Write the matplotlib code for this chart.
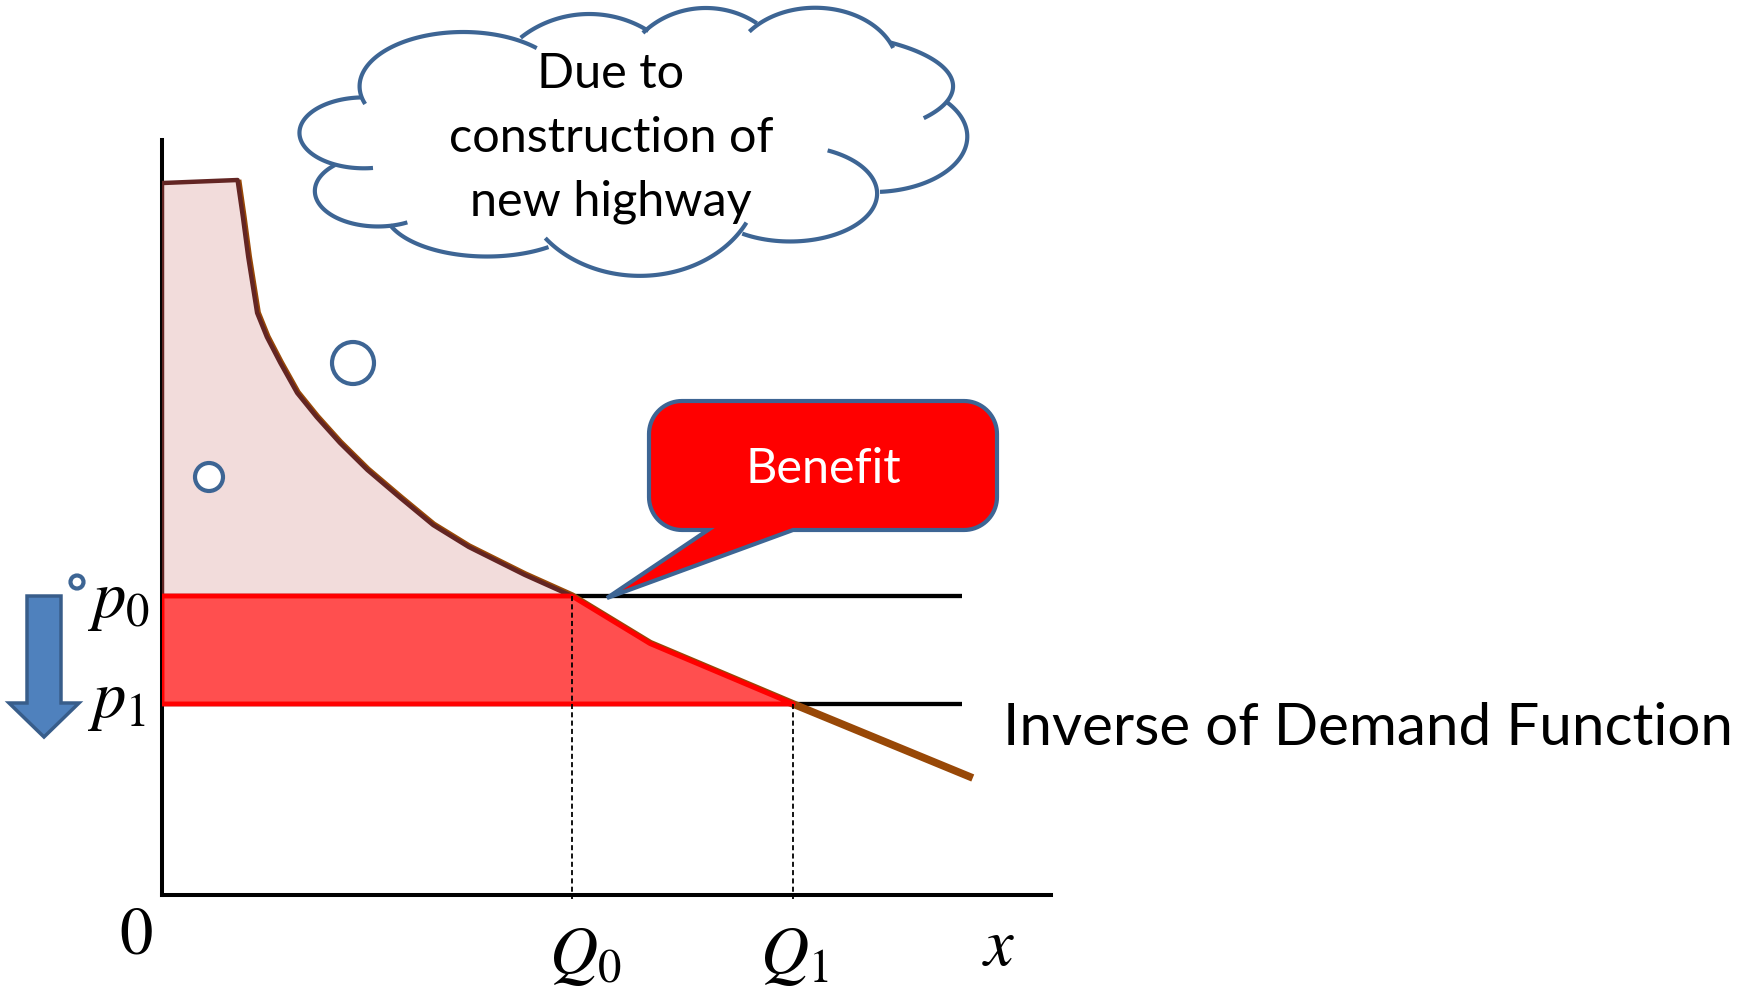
import numpy as np
import matplotlib
matplotlib.use("Agg")
import matplotlib.pyplot as plt
from matplotlib.patches import Polygon, Circle

plt.rcParams['mathtext.fontset'] = 'stix'

# ---------------- data (chart units: quantity x, price y) ----------------
demand_x = [0.85, 0.91, 0.97, 1.07, 1.18, 1.33, 1.52, 1.74, 2.00, 2.31, 2.68, 3.05, 3.45, 4.08, 4.61, 5.49, 7.10, 9.12]
demand_y = [9.47, 8.98, 8.45, 7.71, 7.39, 7.05, 6.65, 6.33, 5.99, 5.63, 5.26, 4.90, 4.61, 4.24, 3.96, 3.33, 2.53, 1.55]
Q0, p0 = 4.61, 3.96
Q1, p1 = 7.10, 2.53
surplus_top = 9.43          # top edge of shaded consumer-surplus area
price_line_end = 9.0
x_max, y_max = 10.0, 10.0

axis_labels = [r"$0$", r"$Q_0$", r"$Q_1$", r"$x$"]
price_labels = [r"$p_0$", r"$p_1$"]
cloud_lines = ["Due to", "construction of", "new highway"]
callout_text = "Benefit"
curve_label = "Inverse of Demand Function"

# ---------------- figure ----------------
W, H = 1750, 990
fig = plt.figure(figsize=(W / 100, H / 100), dpi=100)
fig.patch.set_facecolor("white")

ax = fig.add_axes([162 / W, (H - 895) / H, 889 / W, 755 / H])
ax.set_xlim(0, x_max)
ax.set_ylim(0, y_max)
for s in ("top", "right"):
    ax.spines[s].set_visible(False)
for s in ("left", "bottom"):
    ax.spines[s].set_linewidth(2.9)
    ax.spines[s].set_color("black")
ax.set_xticks([])
ax.set_yticks([])
ax.set_zorder(1)

# price lines
ax.plot([0, price_line_end], [p0, p0], color="black", lw=3.1, zorder=1, solid_capstyle="butt")
ax.plot([0, price_line_end], [p1, p1], color="black", lw=3.1, zorder=1, solid_capstyle="butt")

# demand curve
ax.plot(demand_x, demand_y, color="#984807", lw=5.5, zorder=2, solid_capstyle="butt",
        solid_joinstyle="round", clip_on=False)

dx = np.array(demand_x)
dy = np.array(demand_y)
# consumer surplus before (pink)
m0 = dx <= Q0 + 1e-9
pink = [(0, surplus_top)] + list(zip(dx[m0], dy[m0])) + [(Q0, p0), (0, p0)]
ax.add_patch(Polygon(pink, closed=True, facecolor="#F2DCDB", edgecolor="#632523",
                     lw=3.2, joinstyle="round", zorder=3))
# benefit area (red)
m1 = (dx >= Q0 - 1e-9) & (dx <= Q1 + 1e-9)
red = [(0, p0)] + list(zip(dx[m1], dy[m1])) + [(Q1, p1), (0, p1)]
ax.add_patch(Polygon(red, closed=True, facecolor="#FF4F4F", edgecolor="#FF0000",
                     lw=3.5, joinstyle="round", zorder=4))

# dashed verticals
for q, p in [(Q0, p0), (Q1, p1)]:
    ax.plot([q, q], [p, -0.05], color="black", lw=1.3, ls=(0, (2.8, 1.8)), zorder=5, clip_on=False)

# ---------------- overlay (pixel coordinates) ----------------
ov = fig.add_axes([0, 0, 1, 1])
ov.set_xlim(0, W)
ov.set_ylim(H, 0)
ov.axis("off")
ov.patch.set_alpha(0)
ov.set_zorder(2)

math_kw = dict(fontsize=48, color="black", ha="left", va="baseline")
ov.text(119, 954, axis_labels[0], **math_kw)
ov.text(549, 973, axis_labels[1], **math_kw)
ov.text(760, 973, axis_labels[2], **math_kw)
ov.text(982, 965, axis_labels[3], **math_kw)
ov.text(87, 617, price_labels[0], **math_kw)
ov.text(87, 717, price_labels[1], **math_kw)

# blue down arrow
arrow = [(27, 596), (61, 596), (61, 703), (79, 703), (44, 737), (9, 703), (27, 703)]
ov.add_patch(Polygon(arrow, closed=True, facecolor="#4F81BD", edgecolor="#385D8A", lw=2.5))

# thought bubbles
blue = "#3D6594"
for (cx, cy, r) in [(77, 582, 6.5), (209, 477, 14), (353, 363, 21)]:
    ov.add_patch(Circle((cx, cy), r, facecolor="white", edgecolor=blue, lw=3))

# cloud outline: each lobe is an axis-aligned elliptical arc fitted to outline points
def ellipse_arc(pts, n=80):
    P = np.asarray(pts, float)
    best = None
    for k in np.linspace(0.35, 1.8, 117):
        x = P[:, 0]; y = P[:, 1] / k
        A = np.c_[2 * x, 2 * y, np.ones_like(x)]
        b = x**2 + y**2
        (cx, cy, c), *_ = np.linalg.lstsq(A, b, rcond=None)
        r = np.sqrt(max(c + cx**2 + cy**2, 1e-9))
        t = np.arctan2(y - cy, x - cx)
        ex = cx + r * np.cos(t); ey = k * (cy + r * np.sin(t))
        res = np.sum((ex - P[:, 0])**2 + (ey - P[:, 1])**2)
        if best is None or res < best[0]:
            best = (res, k, cx, cy, r, np.unwrap(t))
    _, k, cx, cy, r, t = best
    tt = np.linspace(t[0], t[-1], n)
    return cx + r * np.cos(tt), k * (cy + r * np.sin(tt))

cloud_strokes = [
    [(362, 97), (333, 102), (307, 117), (300, 133), (307, 152), (333, 163), (373, 168)],
    [(335, 165), (320, 177), (315, 193), (327, 213), (357, 223), (390, 227), (407, 222)],
    [(390, 225), (410, 240), (440, 252), (473, 257), (507, 253), (550, 248)],
    [(547, 237), (553, 248), (590, 267), (623, 276), (660, 274), (690, 265), (720, 250), (743, 233), (745, 222)],
    [(743, 233), (790, 243), (840, 232), (868, 212), (879, 192), (873, 178), (850, 160), (828, 150)],
    [(880, 192), (923, 183), (957, 163), (967, 137), (963, 121), (947, 102)],
    [(923, 118), (947, 103), (953, 90), (950, 76), (923, 55), (890, 42)],
    [(893, 48), (887, 37), (857, 17), (813, 8), (773, 15), (750, 32)],
    [(757, 23), (740, 15), (700, 8), (660, 20), (643, 33)],
    [(647, 33), (643, 25), (623, 18), (590, 15), (557, 20), (520, 37)],
    [(537, 48), (510, 38), (477, 33), (440, 33), (400, 43), (370, 63), (360, 83), (365, 104)],
]
for pts in cloud_strokes:
    xs, ys = ellipse_arc(pts)
    ov.plot(xs, ys, color=blue, lw=3, solid_capstyle="butt", zorder=2)

sans = ["Lato", "DejaVu Sans"]
for txt, yb in zip(cloud_lines, [88, 152, 216]):
    ov.text(611, yb, txt, fontsize=35, family=sans, ha="center", va="baseline", zorder=3)

# callout
x0, x1, y0, y1, rr = 649, 997, 401, 530, 33
def corner(cx, cy, t0, t1):
    t = np.radians(np.linspace(t0, t1, 20))
    return list(zip(cx + rr * np.cos(t), cy + rr * np.sin(t)))
call = (corner(x1 - rr, y0 + rr, -90, 0) + corner(x1 - rr, y1 - rr, 0, 90)
        + [(793, y1), (607, 598), (708, y1)]
        + corner(x0 + rr, y1 - rr, 90, 180) + corner(x0 + rr, y0 + rr, 180, 270))
ov.add_patch(Polygon(call, closed=True, facecolor="#FF0000", edgecolor=blue, lw=3, zorder=3))
ov.text(823, 483, callout_text, fontsize=35, family=sans, color="white",
        ha="center", va="baseline", zorder=4)

ov.text(1003, 745, curve_label, fontsize=42, family=sans, ha="left", va="baseline")

fig.savefig("out.png", dpi=100, facecolor="white")
